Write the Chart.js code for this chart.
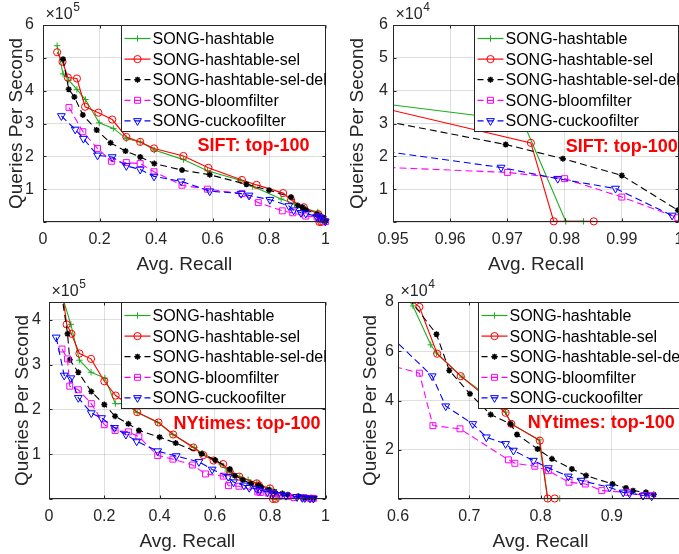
<!DOCTYPE html>
<html><head><meta charset="utf-8">
<script src="https://cdn.jsdelivr.net/npm/chart.js@4/dist/chart.umd.min.js"></script>
<style>
html,body{margin:0;padding:0;background:#fff;overflow:hidden;width:679px;height:554px;position:relative;}
canvas{position:absolute;}
</style></head><body>
<canvas id="c1" width="340" height="277" style="left:0;top:0"></canvas>
<canvas id="c2" width="370" height="277" style="left:340px;top:0"></canvas>
<canvas id="c3" width="340" height="277" style="left:0;top:277px"></canvas>
<canvas id="c4" width="370" height="277" style="left:340px;top:277px"></canvas>
<script>
// ---------- DATA ----------
const seriesNames = ['SONG-hashtable','SONG-hashtable-sel','SONG-hashtable-sel-del','SONG-bloomfilter','SONG-cuckoofilter'];

// SIFT (top-100)
const siftRecallHashtable = [0.050,0.071,0.091,0.120,0.150,0.199,0.249,0.295,0.344,0.394,0.497,0.582,0.698,0.742,0.843,0.890,0.930,0.9727,0.9802,0.9833];
const siftQpsHashtable    = [537000,451000,432000,404000,373000,302000,285000,254000,244000,219000,190000,156000,127000,109000,70000,55000,40000,30700,200,200];
const siftRecallSel = [0.050,0.069,0.088,0.120,0.149,0.196,0.245,0.295,0.344,0.393,0.497,0.585,0.704,0.756,0.850,0.878,0.923,0.9741,0.9781,0.9851];
const siftQpsSel    = [517000,488000,440000,437000,351000,333000,312000,259000,244000,224000,201000,165000,128000,113000,88000,67000,45000,24100,200,200];
const siftRecallSelDel = [0.071,0.091,0.111,0.141,0.190,0.239,0.292,0.344,0.394,0.492,0.590,0.720,0.800,0.878,0.902,0.918,0.930,0.9697,0.9797,0.990,0.9998];
const siftQpsSelDel    = [496000,404000,381000,326000,280000,241000,216000,198000,178000,158000,144000,115000,97000,76000,50000,45000,37000,23600,19300,14200,3600];
const siftRecallBloom = [0.092,0.141,0.193,0.242,0.295,0.344,0.393,0.492,0.582,0.704,0.762,0.847,0.884,0.930,0.970,0.980,0.990,0.9998];
const siftQpsBloom    = [349000,275000,224000,185000,181000,178000,153000,112000,100000,86500,59000,34000,28000,18000,15100,13200,7600,1300];
const siftRecallCuckoo = [0.065,0.114,0.143,0.193,0.245,0.295,0.344,0.393,0.489,0.590,0.701,0.729,0.803,0.870,0.887,0.913,0.930,0.9689,0.9788,0.9889,0.9988];
const siftQpsCuckoo    = [323000,282000,254000,203000,198000,171000,160000,139000,124000,94000,86500,81000,68000,49000,36000,28000,26000,16600,13200,10200,2000];

// NYtimes (top-100)
const nyRecallHashtable = [0.047,0.079,0.110,0.152,0.202,0.240,0.275,0.319,0.393,0.448,0.525,0.554,0.600,0.621,0.646,0.654,0.690,0.720,0.751,0.759,0.798,0.810,0.827];
const nyQpsHashtable    = [455000,390000,310000,283000,270000,213000,213000,193000,171000,144000,115000,102000,87000,78400,62600,59300,49500,43000,35300,30500,24000,200,200];
const nyRecallSel = [0.045,0.064,0.081,0.110,0.152,0.200,0.241,0.279,0.319,0.396,0.449,0.522,0.558,0.595,0.630,0.655,0.688,0.751,0.759,0.799,0.810,0.820];
const nyQpsSel    = [480000,390000,369000,325000,313000,263000,231000,215000,194000,171000,144000,115000,98000,86000,78000,59000,49900,35000,30500,23700,200,200];
const nyRecallSelDel = [0.045,0.067,0.075,0.106,0.153,0.200,0.239,0.287,0.325,0.400,0.458,0.552,0.601,0.654,0.672,0.701,0.730,0.758,0.767,0.796,0.816,0.844,0.864,0.901,0.920,0.930,0.948,0.959];
const nyQpsSelDel    = [460000,369000,311000,283000,240000,211000,185000,168000,153000,138000,125000,101000,87000,66900,52200,42700,34300,30500,26200,20300,16300,12200,9500,6100,4500,3400,2700,1800];
const nyRecallBloom = [0.047,0.067,0.075,0.106,0.153,0.200,0.239,0.287,0.325,0.393,0.448,0.519,0.566,0.630,0.649,0.687,0.755,0.764,0.792,0.811,0.840,0.863,0.886,0.922,0.945,0.956];
const nyQpsBloom    = [335000,313000,252000,244000,213000,166000,153000,150000,139000,97000,89000,76000,56000,51100,29800,28500,15900,14500,13300,11500,6800,6100,3400,2700,1400,1400];
const nyRecallCuckoo = [0.026,0.055,0.079,0.106,0.153,0.190,0.237,0.278,0.317,0.393,0.460,0.542,0.590,0.648,0.667,0.705,0.724,0.751,0.762,0.790,0.811,0.839,0.857,0.897,0.916,0.925,0.944,0.956];
const nyQpsCuckoo    = [361000,276000,270000,226000,192000,181000,159000,144000,129000,107000,96000,83000,66000,49900,37700,30500,25100,22400,19700,15600,12600,9200,7500,4700,2700,2300,1400,1100];

// ---------- STYLE ----------
const FONT = "'Liberation Sans', Arial, Helvetica, sans-serif";
const AX = '#262626';
Chart.defaults.font.family = FONT;
const styles = [
  {color:'#1fae1f', dash:[],    point:'cross',    r:3.2, fill:false, rot:0},
  {color:'#ff0000', dash:[],    point:'circle',   r:3.6, fill:false, rot:0},
  {color:'#000000', dash:[7,4], point:'star',     r:3.0, fill:true,  rot:0},
  {color:'#ff00ff', dash:[7,4], point:'rect',     r:4.2, fill:false, rot:0},
  {color:'#0000ff', dash:[7,4], point:'triangle', r:4.5, fill:false, rot:180}
];

function drawMarker(ctx, st, x, y){
  const r = st.r;
  ctx.save();
  ctx.strokeStyle = st.color; ctx.fillStyle = st.color; ctx.setLineDash([]);
  ctx.lineWidth = st.point==='star' ? 1.5 : 1;
  ctx.beginPath();
  if (st.point==='cross'){ ctx.moveTo(x-r,y); ctx.lineTo(x+r,y); ctx.moveTo(x,y-r); ctx.lineTo(x,y+r); ctx.stroke(); }
  else if (st.point==='circle'){ ctx.arc(x,y,r,0,Math.PI*2); ctx.stroke(); }
  else if (st.point==='star'){
    ctx.moveTo(x-r,y); ctx.lineTo(x+r,y); ctx.moveTo(x,y-r); ctx.lineTo(x,y+r);
    const d=r*Math.SQRT1_2; ctx.moveTo(x-d,y-d); ctx.lineTo(x+d,y+d); ctx.moveTo(x-d,y+d); ctx.lineTo(x+d,y-d); ctx.stroke(); }
  else if (st.point==='rect'){ const s=r*Math.SQRT1_2; ctx.rect(x-s,y-s,2*s,2*s); ctx.stroke(); }
  else if (st.point==='triangle'){ ctx.moveTo(x,y+r); ctx.lineTo(x+r*0.866,y-r*0.5); ctx.lineTo(x-r*0.866,y-r*0.5); ctx.closePath(); ctx.stroke(); }
  ctx.restore();
}

const framePlugin = {
  id:'frame',
  afterDatasetsDraw(chart, args, o){
    const {ctx, chartArea:a} = chart;
    const xs = chart.scales.x, ys = chart.scales.y;
    ctx.save();
    // annotation
    ctx.fillStyle='#ff0000'; ctx.font="bold 18px "+FONT; ctx.textBaseline='middle'; ctx.textAlign='left';
    ctx.fillText(o.note, xs.getPixelForValue(o.noteX), ys.getPixelForValue(o.noteY));
    // box
    const L=Math.round(a.left)+0.5, T=Math.round(a.top)+0.5, R=Math.round(a.right)-0.5, B=Math.round(a.bottom)-0.5;
    ctx.strokeStyle=AX; ctx.lineWidth=1; ctx.setLineDash([]);
    ctx.strokeRect(L,T,R-L,B-T);
    ctx.beginPath();
    xs.ticks.forEach(t=>{const p=Math.round(xs.getPixelForValue(t.value))+0.5; ctx.moveTo(p,B); ctx.lineTo(p,B-3); ctx.moveTo(p,T); ctx.lineTo(p,T+3);});
    ys.ticks.forEach(t=>{const p=Math.round(ys.getPixelForValue(t.value))+0.5; ctx.moveTo(L,p); ctx.lineTo(L+3,p); ctx.moveTo(R,p); ctx.lineTo(R-3,p);});
    ctx.stroke();
    // legend
    const lw=205, lh=106, lx=Math.round(a.right)-lw+0.5, ly=T;
    ctx.fillStyle='#fff'; ctx.fillRect(lx,ly,lw,lh);
    ctx.strokeStyle=AX; ctx.strokeRect(lx,ly,lw-1,lh);
    ctx.font="16px "+FONT; ctx.textBaseline='middle'; ctx.textAlign='left';
    seriesNames.forEach((n,i)=>{
      const st=styles[i], cy=ly+13+i*20.6;
      ctx.save(); ctx.strokeStyle=st.color; ctx.lineWidth=1.2; ctx.setLineDash(st.dash.length?[6,4]:[]);
      ctx.beginPath(); ctx.moveTo(lx+3,cy); ctx.lineTo(lx+29,cy); ctx.stroke(); ctx.restore();
      drawMarker(ctx, st, lx+16, cy);
      ctx.fillStyle='#000'; ctx.fillText(n, lx+31, cy+1);
    });
    // exponent
    ctx.fillStyle=AX; ctx.textBaseline='alphabetic'; ctx.font="16px "+FONT;
    const ex=Math.round(a.left)+2.5, ey=Math.round(a.top)-6;
    ctx.fillText('\u00d710', ex, ey);
    const w=ctx.measureText('\u00d710').width;
    ctx.font="12px "+FONT; ctx.fillText(o.exp, ex+w+0.5, ey-8);
    ctx.restore();
  }
};

function makeTicks(min, max, step){
  const out=[];
  for (let k=Math.ceil(min/step-1e-9); k*step<=max+step*1e-9; k++) out.push({value:+(k*step).toFixed(10)});
  return out;
}

function build(id, cfg){
  const c=document.getElementById(id);
  const W=c.width, H=c.height;
  const datasets = cfg.series.map((s,i)=>({
    label: seriesNames[i],
    data: s[0].map((r,k)=>({x:r, y:s[1][k]})),
    showLine:true, tension:0,
    borderColor: styles[i].color, borderWidth:1.1, borderDash: styles[i].dash,
    pointStyle: styles[i].point, pointRadius: styles[i].r, pointRotation: styles[i].rot,
    pointBorderColor: styles[i].color, pointBorderWidth: styles[i].point==='star'?1.5:1,
    pointBackgroundColor: styles[i].fill ? styles[i].color : 'rgba(0,0,0,0)',
    order: 5-i,
    clip:{left:0, top:0, right:6, bottom:6}
  }));
  return new Chart(c, {
    type:'scatter',
    data:{datasets},
    options:{
      responsive:false, animation:false, events:[],
      layout:{padding:{left:0, top:cfg.area[1], right: W-cfg.area[2], bottom:0}},
      plugins:{legend:{display:false}, tooltip:{enabled:false},
        frame:{note:cfg.note, noteX:cfg.noteX, noteY:cfg.noteY, exp:cfg.exp}},
      scales:{
        x:{type:'linear', min:cfg.xMin, max:cfg.xMax, bounds:'data',
          afterBuildTicks:s=>{s.min=cfg.xMin; s.max=cfg.xMax; s.ticks=makeTicks(cfg.xMin,cfg.xMax,cfg.xStep);},
          afterFit:s=>{s.height = H-cfg.area[3];},
          ticks:{color:AX, padding:10, maxRotation:0, autoSkip:false,
            font:{size:16, lineHeight:1},
            callback:v=> (cfg.xHide && v>cfg.xHide) ? '' : String(+(+v).toFixed(2))},
          grid:{color:'rgba(38,38,38,0.15)', drawTicks:false, lineWidth:1},
          border:{display:false},
          title:{display:true, text:'Avg. Recall', color:AX, font:{size:19, lineHeight:1}, padding:{top:0,bottom:3}}
        },
        y:{type:'linear', min:0, max:cfg.yMax, bounds:'data',
          afterBuildTicks:s=>{s.min=0; s.max=cfg.yMax; s.ticks=makeTicks(0,cfg.yMax,cfg.yStep);},
          afterFit:s=>{s.width = cfg.area[0];},
          ticks:{color:AX, padding:cfg.yPad, autoSkip:false,
            font:{size:16, lineHeight:1},
            callback:v=> v===0 ? '' : String(Math.round(v/cfg.yDiv))},
          grid:{color:'rgba(38,38,38,0.15)', drawTicks:false, lineWidth:1},
          border:{display:false},
          title:{display:true, text:'Queries Per Second', color:AX, font:{size:19, lineHeight:1}, padding:{top:cfg.yTitle-9.5, bottom:0}}
        }
      }
    },
    plugins:[framePlugin]
  });
}

const siftSeries = [[siftRecallHashtable,siftQpsHashtable],[siftRecallSel,siftQpsSel],[siftRecallSelDel,siftQpsSelDel],[siftRecallBloom,siftQpsBloom],[siftRecallCuckoo,siftQpsCuckoo]];
const nySeries = [[nyRecallHashtable,nyQpsHashtable],[nyRecallSel,nyQpsSel],[nyRecallSelDel,nyQpsSelDel],[nyRecallBloom,nyQpsBloom],[nyRecallCuckoo,nyQpsCuckoo]];

build('c1',{series:siftSeries, area:[43,25,330,222], xMin:0, xMax:1, xStep:0.2, yMax:600000, yStep:100000, yDiv:100000, yPad:9, yTitle:17, exp:'5', note:'SIFT: top-100', noteX:0.547, noteY:232000});
build('c2',{series:siftSeries, area:[53,25,339,222], xMin:0.95, xMax:1, xStep:0.01, yMax:60000, yStep:10000, yDiv:10000, yPad:5, yTitle:18, exp:'4', note:'SIFT: top-100', noteX:0.9802, noteY:22900});
build('c3',{series:nySeries, area:[49,25,333,222], xMin:0, xMax:1, xStep:0.2, yMax:440000, yStep:100000, yDiv:100000, yPad:8, yTitle:23, exp:'5', note:'NYtimes: top-100', noteX:0.45, noteY:168000});
build('c4',{series:nySeries, area:[58,25,343,222], xMin:0.6, xMax:1, xStep:0.1, xHide:0.95, yMax:80000, yStep:20000, yDiv:10000, yPad:4, yTitle:31, exp:'4', note:'NYtimes: top-100', noteX:0.782, noteY:30800});
</script>
</body></html>
